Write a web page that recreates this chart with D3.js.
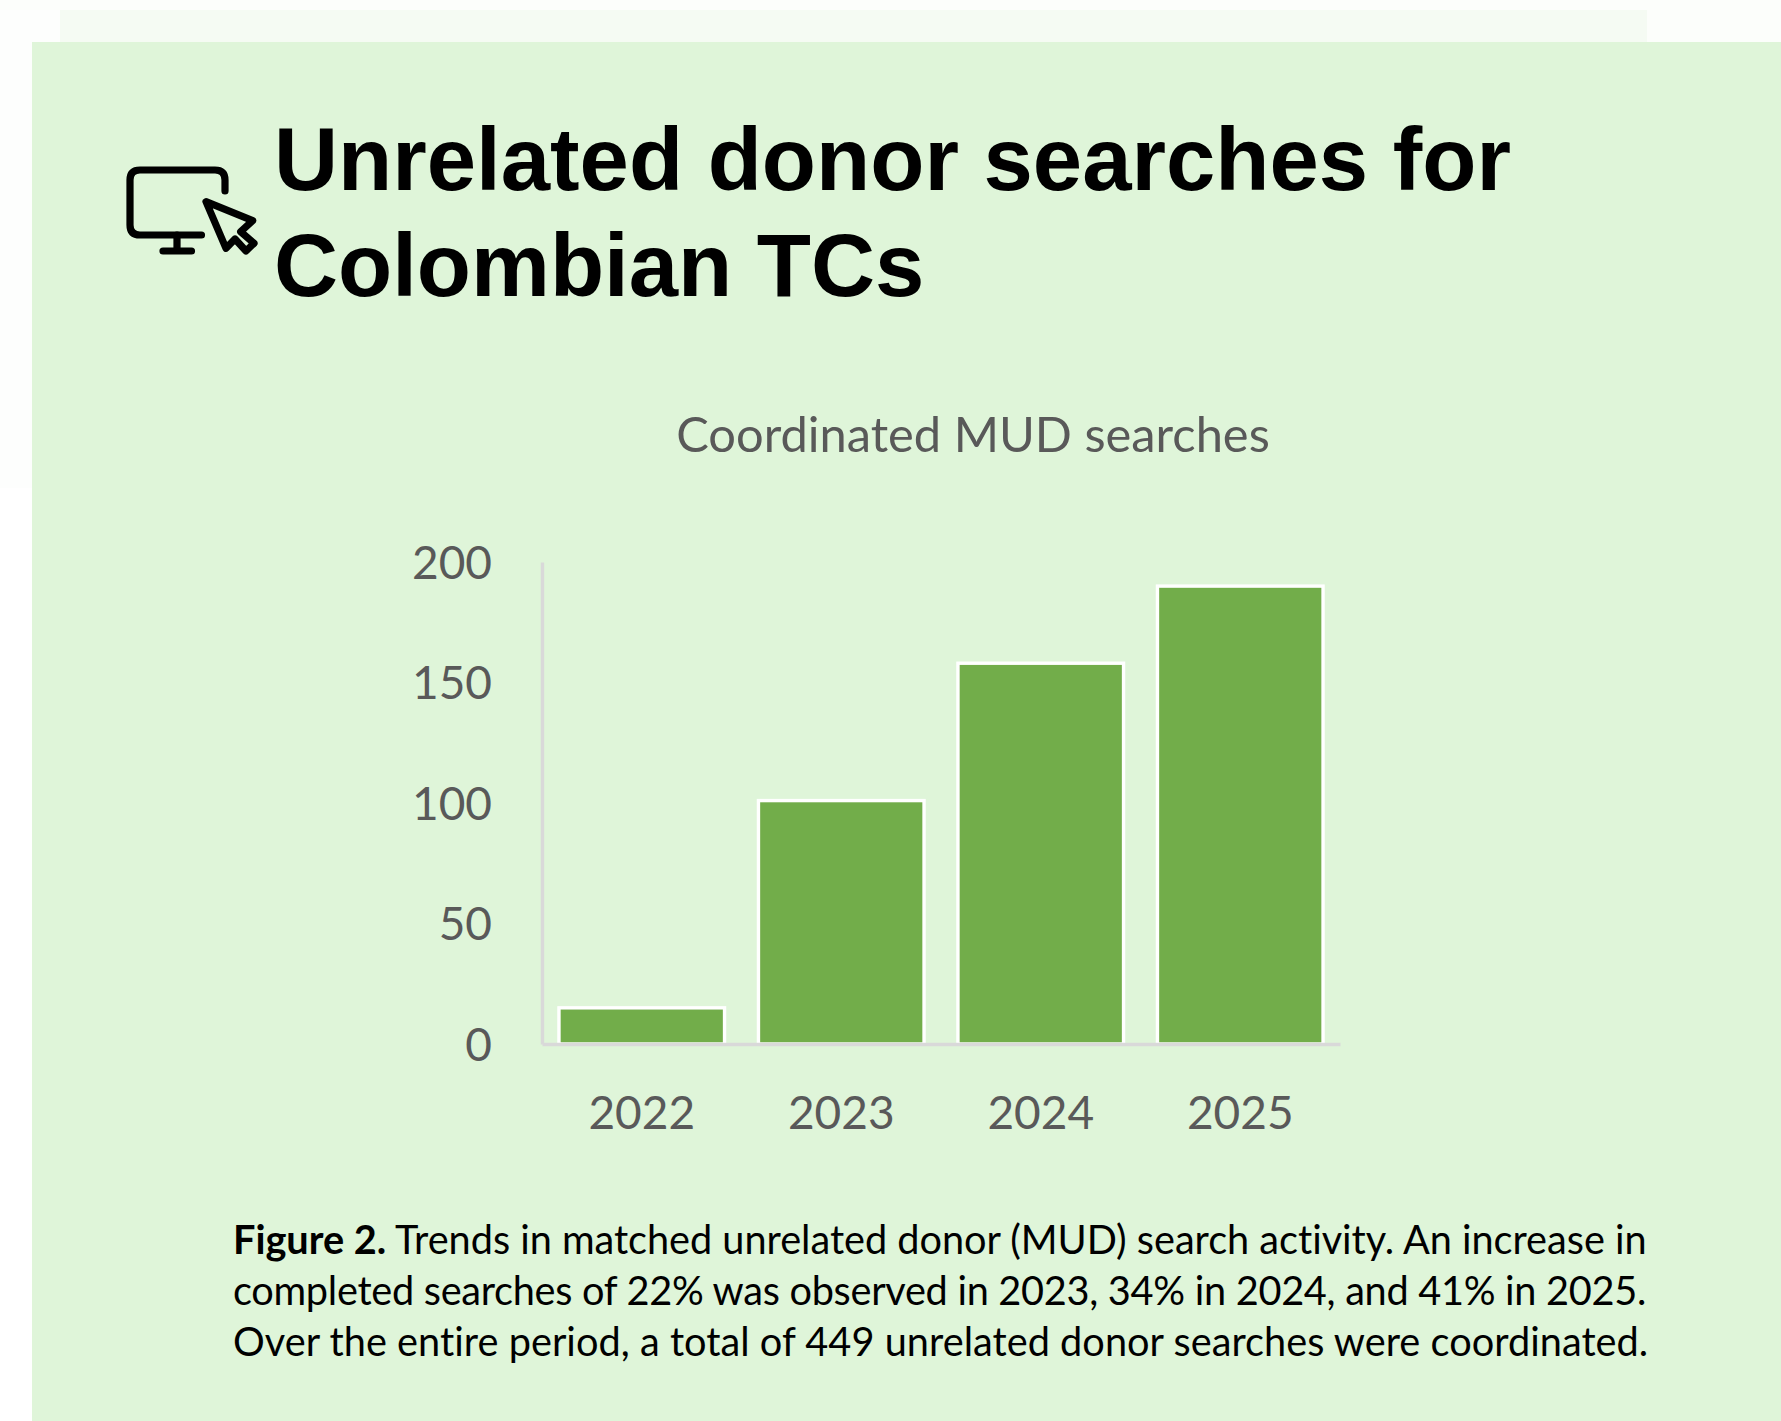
<!DOCTYPE html>
<html><head><meta charset="utf-8">
<script src="https://cdn.jsdelivr.net/npm/d3@7"></script>
<style>html,body{margin:0;padding:0;background:#fff;overflow:hidden}svg{display:block}</style>
</head><body><svg id="c" width="1781" height="1421"></svg>
<script>
const categories = ["2022","2023","2024","2025"];
const searches = [15,101,158,190];
const yTicks = [0,50,100,150,200];
const titleLines = ["Unrelated donor searches for","Colombian TCs"];
const chartTitle = "Coordinated MUD searches";
const captionLines = [
  [["Figure 2.",true],[" Trends in matched unrelated donor (MUD) search activity. An increase in",false]],
  [["completed searches of 22% was observed in 2023, 34% in 2024, and 41% in 2025.",false]],
  [["Over the entire period, a total of 449 unrelated donor searches were coordinated.",false]]
];
const captionSpacing = [-0.03,-0.29,0.03];
const svg = d3.select("#c");
const bg = [[0,0,1781,10,"#fcfefb"],[0,10,60,478,"#fdfefd"],[60,10,1587,32,"#f5fbf3"],[1647,10,134,32,"#fcfefb"],[32,42,1749,1379,"#dff5d9"]];
svg.selectAll("rect.bg").data(bg).join("rect").attr("class","bg")
  .attr("x",d=>d[0]).attr("y",d=>d[1]).attr("width",d=>d[2]).attr("height",d=>d[3]).attr("fill",d=>d[4]);
// icon
const ic = svg.append("g").attr("fill","none").attr("stroke","#000").attr("stroke-width",7.2).attr("stroke-linecap","round").attr("stroke-linejoin","round");
ic.append("path").attr("d","M225 191V180Q225 170 215 170H140Q130 170 130 180V225Q130 235 140 235H201.5");
ic.append("path").attr("d","M177 235V251M163 251H191.5");
ic.append("path").attr("d","M206 201.7L252.7 220.7L240.7 231.7L254 243.3L246 251L235 239L226 248.3Z");
// title
svg.append("g").selectAll("text").data(titleLines).join("text")
  .attr("x",274).attr("y",(d,i)=>190+i*106).attr("font-family","'Liberation Sans',Arial,sans-serif")
  .attr("font-weight",700).attr("font-size",88.7).attr("fill","#000").text(d=>d);
const font="Lato,'Open Sans',sans-serif";
svg.append("text").attr("x",973).attr("y",452).attr("text-anchor","middle").attr("font-family",font)
  .attr("font-size",48.8).attr("fill","#595959").text(chartTitle);
const x = d3.scaleBand().domain(categories).range([542,1340]).paddingInner(0.17).paddingOuter(0.085);
const y = d3.scaleLinear().domain([0,200]).range([1044,562]);
svg.append("g").selectAll("rect").data(searches).join("rect")
  .attr("x",(d,i)=>x(categories[i])).attr("width",x.bandwidth())
  .attr("y",d=>y(d)).attr("height",d=>y(0)-y(d))
  .attr("fill","#72ad4a").attr("stroke","#fff").attr("stroke-width",3.4);
const ax = svg.append("g").attr("transform","translate(542,0)").call(d3.axisLeft(y).tickValues(yTicks).tickSize(0).tickPadding(50));
const ab = svg.append("g").attr("transform","translate(0,1044)").call(d3.axisBottom(x).tickSize(0).tickPadding(52));
[ax,ab].forEach(a=>{a.selectAll("text").attr("font-family",font).attr("font-size",46).attr("fill","#595959");
  a.select("path").attr("stroke","#d9d9d9").attr("stroke-width",3.4);});
ax.selectAll("text").attr("dy","0.35em");
const cap = svg.append("g").selectAll("text").data(captionLines).join("text")
  .attr("x",233).attr("y",(d,i)=>1254+i*51).attr("font-family",font).attr("font-size",39.7).attr("fill","#000")
  .attr("letter-spacing",(d,i)=>captionSpacing[i]);
cap.selectAll("tspan").data(d=>d).join("tspan").attr("font-weight",d=>d[1]?700:400).text(d=>d[0]);
</script></body></html>
